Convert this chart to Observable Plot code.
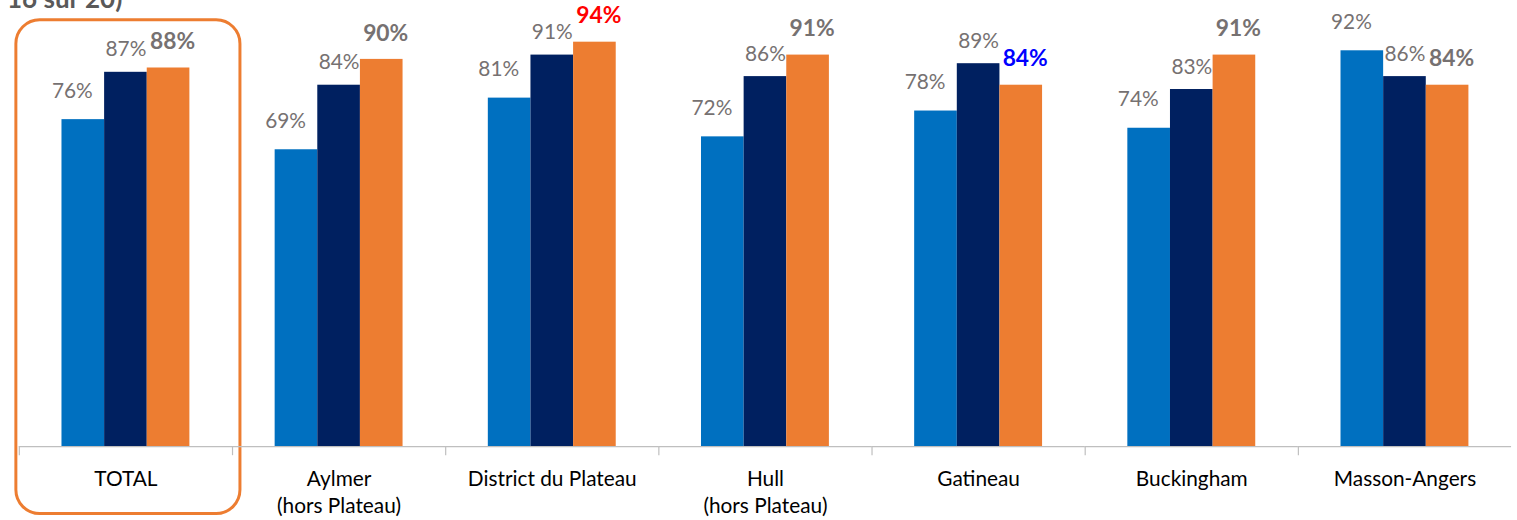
<!DOCTYPE html>
<html>
<head>
<meta charset="utf-8">
<script src="https://cdn.jsdelivr.net/npm/d3@7"></script>
<script src="https://cdn.jsdelivr.net/npm/@observablehq/plot@0.6"></script>
<style>
  html, body { margin: 0; padding: 0; overflow: hidden; background: #fff; }
  #wrap { position: relative; width: 1517px; height: 520px; overflow: hidden; }
  #top { position: absolute; left: 7px; top: -18px; font: bold 26px Lato, sans-serif; color: #595959; white-space: nowrap; }
  #chart { position: absolute; left: 0; top: 0; }
</style>
</head>
<body>
<div id="wrap">
  <div id="chart"></div>
  <div id="top">16 sur 20)</div>
</div>
<script>
const categories = ["TOTAL", "Aylmer\n(hors Plateau)", "District du Plateau", "Hull\n(hors Plateau)", "Gatineau", "Buckingham", "Masson-Angers"];
const series = ["Série 1", "Série 2", "Série 3"];
const values1 = [76, 69, 81, 72, 78, 74, 92];
const values2 = [87, 84, 91, 86, 89, 83, 86];
const values3 = [88, 90, 94, 91, 84, 91, 84];
const highlighted = ["TOTAL"];

const seriesValues = [values1, values2, values3];
const data = [];
series.forEach((s, si) => categories.forEach((c, ci) => data.push({cat: c, series: s, value: seriesValues[si][ci]})));

const barColors = ["#0070C0", "#002060", "#ED7D31"];
const labelColor = d => d.series === series[2]
  ? (d.cat === "District du Plateau" ? "#FF0000" : d.cat === "Gatineau" ? "#0000FF" : "#767171")
  : "#767171";

const labelMark = (si, dx, dy, weight, size) => Plot.text(data.filter(d => d.series === series[si]), {
  fx: "cat", x: "series", y: "value",
  text: d => d.value + "%",
  fill: labelColor,
  dx, dy,
  lineAnchor: "bottom",
  fontSize: size,
  fontWeight: weight,
  fontFamily: "Lato, sans-serif"
});

const chart = Plot.plot({
  width: 1530,
  height: 520,
  marginLeft: 16,
  marginRight: 4,
  marginTop: 16,
  marginBottom: 70,
  style: {fontFamily: "Lato, sans-serif", overflow: "visible"},
  fx: {domain: categories, padding: 0, label: null},
  x: {domain: series, paddingInner: 0, paddingOuter: 1, axis: null},
  y: {domain: [0, 100], axis: null},
  color: {domain: series, range: barColors},
  marks: [
    Plot.rect(categories.filter(c => highlighted.includes(c)).map(c => ({cat: c})), {
      fx: "cat",
      fill: "none", stroke: "#ED7D31", strokeWidth: 3, rx: 24,
      insetLeft: -3, insetRight: -8, insetTop: 4, insetBottom: -68
    }),
    Plot.barY(data, {fx: "cat", x: "series", y: "value", fill: "series"}),
    Plot.ruleY([0], {stroke: "#BFBFBF", strokeWidth: 1.2}),
    Plot.frame({anchor: "left", stroke: "#BFBFBF", strokeWidth: 1.2, insetTop: 434, insetBottom: -8}),
    labelMark(0, -11, -22, "normal", 21),
    labelMark(1, 0, -16, "normal", 21),
    labelMark(2, 4, -19, "bold", 23),
    Plot.axisFx({anchor: "bottom", tickSize: 0, tickPadding: 21, fontSize: 21, fill: "#000", lineHeight: 1.28, label: null})
  ]
});
document.getElementById("chart").appendChild(chart);
</script>
</body>
</html>
